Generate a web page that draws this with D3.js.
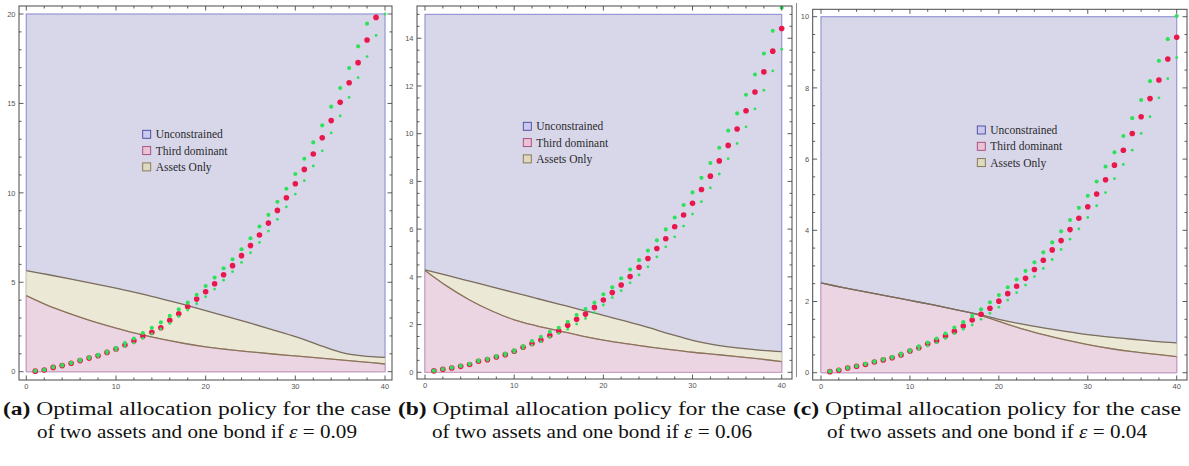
<!DOCTYPE html>
<html><head><meta charset="utf-8">
<script src="https://cdn.jsdelivr.net/npm/d3@7"></script>
<style>body{margin:0;background:#fff}svg{display:block}</style>
</head><body>
<svg id="chart" width="1189" height="466"></svg>
<script>
// ---------- data ----------
const steps = [1,2,3,4,5,6,7,8,9,10,11,12,13,14,15,16,17,18,19,20,21,22,23,24,25,26,27,28,29,30,31,32,33,34,35,36,37,38,39,40];
const curveX = [0,2.5,5,7.5,10,12.5,15,17.5,20,22.5,25,27.5,30,32.5,35,37.5,40];
const xTicks = [0,10,20,30,40];
const legendLabels = ["Unconstrained","Third dominant","Assets Only"];
const captionTags = ["(a)","(b)","(c)"];
const captionLine1 = " Optimal allocation policy for the case";
const captionLine2 = "of two assets and one bond if ";
const epsilonValues = ["0.09","0.06","0.04"];

// panel (a)  epsilon = 0.09
const yTicksA = [0,5,10,15,20];
const upperA = [5.65,5.42,5.18,4.93,4.67,4.39,4.09,3.76,3.42,3.07,2.71,2.34,1.96,1.52,1.1,0.88,0.8];
const lowerA = [4.25,3.68,3.22,2.8,2.44,2.11,1.83,1.59,1.39,1.24,1.11,0.99,0.88,0.77,0.66,0.55,0.43];
const redA = [0.03,0.09,0.24,0.34,0.47,0.62,0.76,0.89,1.08,1.27,1.49,1.73,1.99,2.2,2.46,2.87,3.24,3.63,4.06,4.47,4.92,5.42,5.93,6.49,7.05,7.64,8.31,9.02,9.73,10.51,11.31,12.17,13.08,14.04,15.06,16.16,17.28,18.55,19.81,21.1];
const upA = [0.05,0.11,0.26,0.37,0.5,0.66,0.8,0.94,1.13,1.34,1.6,1.86,2.16,2.46,2.76,3.12,3.49,3.86,4.3,4.79,5.26,5.78,6.29,6.85,7.46,8.12,8.77,9.5,10.23,11.05,11.91,12.82,13.77,14.82,15.86,16.98,18.19,19.46,20.8,22.2];
const loA = [0.02,0.07,0.22,0.31,0.44,0.58,0.72,0.84,1.02,1.2,1.42,1.6,1.86,2.12,2.39,2.7,3.08,3.45,3.8,4.19,4.62,5.12,5.59,6.11,6.65,7.23,7.86,8.52,9.22,9.93,10.68,11.5,12.35,13.35,14.3,15.34,16.44,17.62,18.8,20.0];

// panel (b)  epsilon = 0.06
const yTicksB = [0,2,4,6,8,10,12,14];
const upperB = [4.29,4.06,3.82,3.58,3.34,3.1,2.86,2.62,2.39,2.14,1.88,1.6,1.34,1.15,1.02,0.93,0.87];
const lowerB = [4.27,3.6,3.03,2.57,2.2,1.95,1.74,1.53,1.35,1.2,1.07,0.95,0.84,0.75,0.66,0.56,0.45];
const redB = [0.06,0.13,0.18,0.25,0.33,0.46,0.53,0.64,0.74,0.88,1.05,1.21,1.35,1.54,1.73,1.97,2.22,2.44,2.72,3.03,3.34,3.66,4.01,4.4,4.77,5.19,5.6,6.1,6.59,7.08,7.66,8.22,8.86,9.51,10.2,10.96,11.75,12.59,13.46,14.41];
const upB = [0.07,0.14,0.2,0.27,0.36,0.49,0.57,0.68,0.79,0.92,1.1,1.31,1.49,1.7,1.87,2.12,2.4,2.65,2.92,3.27,3.56,3.94,4.31,4.7,5.1,5.53,5.99,6.49,7.01,7.54,8.15,8.77,9.41,10.13,10.85,11.63,12.48,13.36,14.31,15.28];
const loB = [0.05,0.12,0.17,0.24,0.31,0.44,0.5,0.61,0.7,0.84,1.0,1.14,1.28,1.47,1.63,1.8,2.02,2.26,2.5,2.82,3.13,3.42,3.75,4.08,4.42,4.84,5.26,5.68,6.13,6.63,7.15,7.73,8.31,8.95,9.59,10.29,11.04,11.82,12.63,13.54];

// panel (c)  epsilon = 0.04
const yTicksC = [0,2,4,6,8,10];
const upperC = [2.52,2.39,2.27,2.15,2.03,1.91,1.78,1.65,1.5,1.37,1.26,1.16,1.07,1.0,0.94,0.88,0.84];
const lowerC = [2.52,2.39,2.27,2.15,2.03,1.91,1.78,1.64,1.44,1.24,1.07,0.92,0.79,0.68,0.59,0.52,0.45];
const redC = [0.03,0.07,0.13,0.18,0.23,0.3,0.36,0.42,0.5,0.61,0.7,0.81,0.9,1.03,1.16,1.31,1.48,1.64,1.81,2.01,2.22,2.43,2.65,2.9,3.16,3.45,3.71,4.02,4.34,4.66,5.02,5.42,5.83,6.25,6.72,7.19,7.7,8.22,8.81,9.42];
const upC = [0.04,0.08,0.14,0.19,0.25,0.32,0.38,0.45,0.54,0.63,0.74,0.85,0.96,1.1,1.27,1.42,1.59,1.78,1.98,2.18,2.4,2.62,2.86,3.1,3.38,3.66,3.97,4.29,4.63,4.97,5.37,5.79,6.19,6.65,7.15,7.66,8.19,8.76,9.37,10.02];
const loC = [0.02,0.06,0.12,0.17,0.22,0.28,0.34,0.4,0.47,0.58,0.66,0.75,0.84,0.96,1.1,1.22,1.34,1.5,1.67,1.84,2.04,2.25,2.46,2.7,2.93,3.18,3.46,3.75,4.04,4.36,4.69,5.06,5.45,5.85,6.25,6.72,7.19,7.72,8.26,8.85];

const yMaxes = [20, 15, 10];
const yMinorSteps = [1, 0.5, 0.5];

// ---------- layout / style ----------
const layouts = [
  {x0:26.3, x1:385,   y0:371.7, yTopPx:14,   fl:19,    ft:6,   fr:392,  fb:380, lx:142.7, ly:134.3, cx:197},
  {x0:425,  x1:781.7, y0:372.3, yTopPx:14.4, fl:417,   ft:6,   fr:792,  fb:379, lx:523.3, ly:126.3, cx:592},
  {x0:821,  x1:1176.7,y0:372.7, yTopPx:16.7, fl:812.7, ft:9.3, fr:1187, fb:380, lx:977.3, ly:130,   cx:987}
];
const C = {
  blueFill:"#d8d7ea", blueStroke:"#9796d6",
  pinkFill:"#ecd5e2", pinkStroke:"#d09cba",
  creamFill:"#ece8d6", creamStroke:"#d9d2b4",
  upperLine:"#7a6d62", lowerLine:"#8a7558",
  red:"#e8174c", green:"#2fe05a",
  frame:"#4a4a4a", tickText:"#555"
};
const legendSq = [
  {fill:"#c9c8ee", stroke:"#45449c"},
  {fill:"#ebc2d4", stroke:"#a2467a"},
  {fill:"#dfd9bf", stroke:"#80704a"}
];
const serif = "Liberation Serif, Tinos, Times New Roman, serif";

const svg = d3.select("#chart");
const defs = svg.append("defs");

const panelsData = [
  {upper:upperA, lower:lowerA, red:redA, up:upA, lo:loA, yTicks:yTicksA},
  {upper:upperB, lower:lowerB, red:redB, up:upB, lo:loB, yTicks:yTicksB},
  {upper:upperC, lower:lowerC, red:redC, up:upC, lo:loC, yTicks:yTicksC}
];

// thin separator line at left of panel (c)
svg.append("line").attr("x1",796.5).attr("x2",796.5).attr("y1",3).attr("y2",377)
  .attr("stroke","#8a8a8a").attr("stroke-width",1);

panelsData.forEach((P, i) => {
  const L = layouts[i];
  const x = d3.scaleLinear().domain([0,40]).range([L.x0, L.x1]);
  const y = d3.scaleLinear().domain([0, yMaxes[i]]).range([L.y0, L.yTopPx]);
  const g = svg.append("g");
  const clipId = "clip" + i;
  defs.append("clipPath").attr("id", clipId).append("rect")
    .attr("x", L.fl).attr("y", L.ft).attr("width", L.fr - L.fl).attr("height", L.fb - L.ft);

  // blue (unconstrained) region: whole range
  g.append("rect").attr("x", x(0)).attr("y", y(yMaxes[i]))
    .attr("width", x(40) - x(0)).attr("height", y(0) - y(yMaxes[i]))
    .attr("fill", C.blueFill).attr("stroke", C.blueStroke).attr("stroke-width", 1.2);

  const pts = curveX.map((cx, k) => ({x: cx, u: P.upper[k], l: P.lower[k]}));
  const crv = d3.curveCatmullRom.alpha(0.5);
  const cream = d3.area().x(d => x(d.x)).y0(d => y(d.l)).y1(d => y(d.u)).curve(crv);
  const pink = d3.area().x(d => x(d.x)).y0(() => y(0)).y1(d => y(d.l)).curve(crv);
  g.append("path").attr("d", cream(pts)).attr("fill", C.creamFill)
    .attr("stroke", C.creamStroke).attr("stroke-width", 1);
  g.append("path").attr("d", pink(pts)).attr("fill", C.pinkFill)
    .attr("stroke", C.pinkStroke).attr("stroke-width", 1);
  const lineU = d3.line().x(d => x(d.x)).y(d => y(d.u)).curve(crv);
  const lineL = d3.line().x(d => x(d.x)).y(d => y(d.l)).curve(crv);
  g.append("path").attr("d", lineL(pts)).attr("fill","none").attr("stroke", C.lowerLine).attr("stroke-width", 1.3);
  g.append("path").attr("d", lineU(pts)).attr("fill","none").attr("stroke", C.upperLine).attr("stroke-width", 1.3);

  // points
  const pg = g.append("g").attr("clip-path", `url(#${clipId})`);
  const series = [
    {vals: P.red, r: 2.8, c: C.red},
    {vals: P.up,  r: 2.05, c: C.green},
    {vals: P.lo,  r: 1.4, c: C.green}
  ];
  series.forEach(s => {
    pg.selectAll(null).data(steps.map((t, k) => ({t, v: s.vals[k]}))).join("circle")
      .attr("cx", d => x(d.t)).attr("cy", d => y(d.v)).attr("r", s.r).attr("fill", s.c);
  });

  // frame
  g.append("rect").attr("x", L.fl).attr("y", L.ft).attr("width", L.fr - L.fl).attr("height", L.fb - L.ft)
    .attr("fill","none").attr("stroke", C.frame).attr("stroke-width", 1);

  // ticks
  const tk = g.append("g").attr("stroke", C.frame).attr("stroke-width", 0.9);
  const xDomLo = x.invert(L.fl), xDomHi = x.invert(L.fr);
  const yDomLo = y.invert(L.fb), yDomHi = y.invert(L.ft);
  const xMinor = d3.range(Math.ceil(xDomLo/2)*2, xDomHi + 1e-9, 2);
  const yMinor = d3.range(Math.ceil(yDomLo/yMinorSteps[i])*yMinorSteps[i], yDomHi + 1e-9, yMinorSteps[i]);
  const isMajorX = v => xTicks.some(t => Math.abs(t - v) < 1e-6);
  const isMajorY = v => P.yTicks.some(t => Math.abs(t - v) < 1e-6);
  xMinor.forEach(v => {
    const len = isMajorX(v) ? 4.5 : 2.5;
    tk.append("line").attr("x1", x(v)).attr("x2", x(v)).attr("y1", L.fb).attr("y2", L.fb - len);
    tk.append("line").attr("x1", x(v)).attr("x2", x(v)).attr("y1", L.ft).attr("y2", L.ft + len);
  });
  yMinor.forEach(v => {
    const len = isMajorY(v) ? 4.5 : 2.5;
    tk.append("line").attr("x1", L.fl).attr("x2", L.fl + len).attr("y1", y(v)).attr("y2", y(v));
    tk.append("line").attr("x1", L.fr).attr("x2", L.fr - len).attr("y1", y(v)).attr("y2", y(v));
  });
  const lab = g.append("g").attr("font-family","Liberation Sans, Arial, sans-serif")
    .attr("font-size", 7.5).attr("fill", C.tickText);
  xTicks.forEach(v => lab.append("text").attr("x", x(v)).attr("y", L.fb + 8.5)
    .attr("text-anchor","middle").text(v));
  P.yTicks.forEach(v => lab.append("text").attr("x", L.fl - 3.5).attr("y", y(v) + 2.7)
    .attr("text-anchor","end").text(v));

  // legend
  const lg = g.append("g");
  legendLabels.forEach((name, k) => {
    const ry = L.ly + k * 16.3;
    lg.append("rect").attr("x", L.lx).attr("y", ry - 4).attr("width", 8).attr("height", 8)
      .attr("fill", legendSq[k].fill).attr("stroke", legendSq[k].stroke).attr("stroke-width", 0.9);
    lg.append("text").attr("x", L.lx + 13).attr("y", ry + 4)
      .attr("font-family", serif).attr("font-size", 11.5)
      .attr("fill", "#2a2a2a").text(name);
  });

  // caption
  const cap = svg.append("g").attr("font-family", serif)
    .attr("font-size", 19.5).attr("fill", "#111");
  const t1 = cap.append("text").attr("x", L.cx).attr("y", 415).attr("text-anchor","middle")
    .attr("textLength", 388).attr("lengthAdjust","spacingAndGlyphs");
  t1.append("tspan").attr("font-weight","bold").text(captionTags[i]);
  t1.append("tspan").text(captionLine1);
  const t2 = cap.append("text").attr("x", L.cx).attr("y", 438).attr("text-anchor","middle")
    .attr("textLength", 320).attr("lengthAdjust","spacingAndGlyphs");
  t2.append("tspan").text(captionLine2);
  t2.append("tspan").attr("font-style","italic").text("ε");
  t2.append("tspan").text(" = " + epsilonValues[i]);
});
</script>
</body></html>
